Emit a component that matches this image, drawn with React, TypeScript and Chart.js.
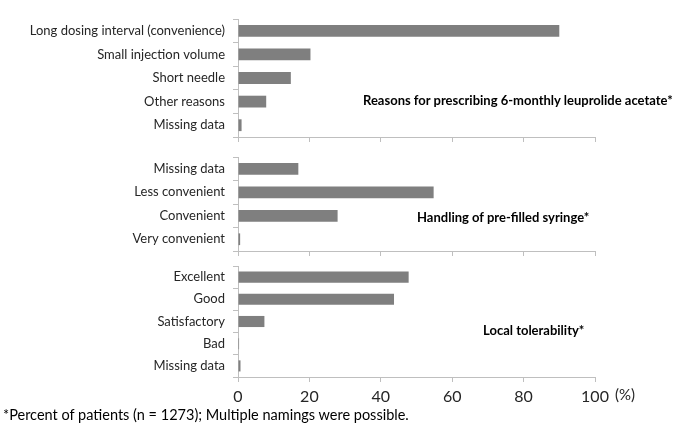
import React, { useEffect, useRef } from "react";
import { Chart, registerables } from "chart.js";

Chart.register(...registerables);

const reasonsLabels = [
  "Long dosing interval (convenience)",
  "Small injection volume",
  "Short needle",
  "Other reasons",
  "Missing data",
];
const reasonsValues = [90, 20.3, 14.8, 7.9, 1.0];

const handlingLabels = ["Missing data", "Less convenient", "Convenient", "Very convenient"];
const handlingValues = [16.9, 54.8, 27.9, 0.6];

const toleranceLabels = ["Excellent", "Good", "Satisfactory", "Bad", "Missing data"];
const toleranceValues = [47.8, 43.7, 7.4, 0.3, 0.7];

const xTicks = [0, 20, 40, 60, 80, 100];

const panelTitles = [
  "Reasons for prescribing 6-monthly leuprolide acetate*",
  "Handling of pre-filled syringe*",
  "Local tolerability*",
];
const footnote = "*Percent of patients (n = 1273); Multiple namings were possible.";
const unitLabel = "(%)";

const W = 685;
const H = 429;
const FONT = "Lato, 'Open Sans', sans-serif";
const AXIS_COLOR = "#bfbfbf";
const BAR_COLOR = "#7f7f7f";
const TEXT_COLOR = "#262626";

function makeChart(
  canvas: HTMLCanvasElement,
  labels: string[],
  values: number[],
  top: number,
  bottom: number,
  showTicks: boolean
) {
  return new Chart(canvas, {
    type: "bar",
    data: {
      labels,
      datasets: [
        {
          data: values,
          backgroundColor: BAR_COLOR,
          borderWidth: 0,
          barPercentage: 0.5,
          categoryPercentage: 1,
        },
      ],
    },
    options: {
      indexAxis: "y",
      animation: false,
      responsive: false,
      devicePixelRatio: 1,
      layout: { padding: { top, left: 0, right: 90, bottom: 0 } },
      plugins: { legend: { display: false }, tooltip: { enabled: false }, title: { display: false } },
      scales: {
        y: {
          afterFit: (s: any) => {
            s.width = 238;
          },
          grid: {
            drawOnChartArea: false,
            offset: true,
            tickLength: 5,
            color: AXIS_COLOR,
          },
          border: { color: AXIS_COLOR },
          ticks: {
            color: TEXT_COLOR,
            padding: 8,
            font: { family: FONT, size: 13 },
          },
        },
        x: {
          min: 0,
          max: 100,
          afterFit: (s: any) => {
            s.height = H - bottom;
          },
          afterBuildTicks: (s: any) => {
            s.ticks = xTicks.map((v) => ({ value: v }));
          },
          grid: {
            drawOnChartArea: false,
            tickLength: 5,
            color: AXIS_COLOR,
          },
          border: { color: AXIS_COLOR },
          ticks: {
            display: showTicks,
            color: TEXT_COLOR,
            padding: 5,
            maxRotation: 0,
            font: { family: FONT, size: 16 },
          },
        },
      },
    },
  } as any);
}

export default function App() {
  const r1 = useRef<HTMLCanvasElement>(null);
  const r2 = useRef<HTMLCanvasElement>(null);
  const r3 = useRef<HTMLCanvasElement>(null);

  useEffect(() => {
    const c1 = makeChart(r1.current!, reasonsLabels, reasonsValues, 19, 137, false);
    const c2 = makeChart(r2.current!, handlingLabels, handlingValues, 157, 251, false);
    const c3 = makeChart(r3.current!, toleranceLabels, toleranceValues, 266, 377, true);
    return () => {
      c1.destroy();
      c2.destroy();
      c3.destroy();
    };
  }, []);

  const canvasStyle: React.CSSProperties = { position: "absolute", left: 0, top: 0 };
  const titleStyle: React.CSSProperties = {
    position: "absolute",
    fontFamily: FONT,
    fontWeight: 700,
    fontSize: 13,
    lineHeight: "16px",
    color: "#000",
    whiteSpace: "nowrap",
  };

  return (
    <div
      style={{
        position: "fixed",
        left: 0,
        top: 0,
        width: W,
        height: H,
        background: "#fff",
        overflow: "hidden",
      }}
    >
      <canvas ref={r1} width={W} height={H} style={canvasStyle} />
      <canvas ref={r2} width={W} height={H} style={canvasStyle} />
      <canvas ref={r3} width={W} height={H} style={canvasStyle} />
      <div style={{ ...titleStyle, left: 363, top: 92 }}>{panelTitles[0]}</div>
      <div style={{ ...titleStyle, left: 417, top: 209 }}>{panelTitles[1]}</div>
      <div style={{ ...titleStyle, left: 483, top: 322 }}>{panelTitles[2]}</div>
      <div
        style={{
          position: "absolute",
          left: 615,
          top: 385,
          fontFamily: FONT,
          fontSize: 15,
          lineHeight: "18px",
          color: TEXT_COLOR,
        }}
      >
        {unitLabel}
      </div>
      <div
        style={{
          position: "absolute",
          left: 3,
          top: 406,
          fontFamily: FONT,
          fontSize: 14.5,
          lineHeight: "18px",
          color: "#000",
          whiteSpace: "nowrap",
        }}
      >
        {footnote}
      </div>
    </div>
  );
}
